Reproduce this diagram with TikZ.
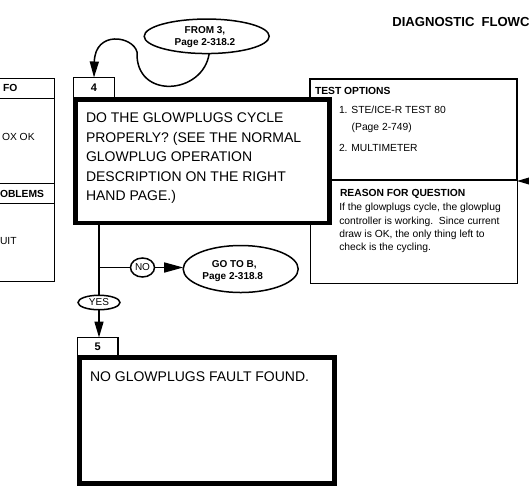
\documentclass[tikz,border=0pt]{standalone}
\usepackage{fontspec}
\setmainfont{Liberation Sans}
\usetikzlibrary{arrows.meta,shapes.geometric}
\newcommand\myfs[2]{\fontsize{#1}{#2}\selectfont}
\tikzset{
  conn/.style={line width=1.5pt},
  arr/.style={-{Triangle[length=16pt,width=9pt]}},
  bigarr/.style={-{Triangle[length=19pt,width=10pt]}},
  boxbase/.style={draw, inner sep=0pt, outer sep=0pt, anchor=north west},
  thickbox/.style={boxbase, line width=4.6pt, fill=white},
  labbox/.style={boxbase, line width=1.2pt, fill=white, font=\myfs{11}{13}\bfseries},
  oval/.style={ellipse, draw, line width=1.5pt, fill=white, inner sep=0pt, outer sep=0pt},
  txt/.style={inner sep=0pt, outer sep=0pt, anchor=base west},
  small/.style={txt, font=\myfs{10.3}{13.3}},
  smallb/.style={txt, font=\myfs{10.3}{13.3}\bfseries},
  ovaltxt/.style={inner sep=0pt, outer sep=0pt, anchor=base, font=\myfs{10}{12}\bfseries},
  big/.style={txt, font=\myfs{14}{19.5}},
}
\begin{document}
\begin{tikzpicture}[x=1pt,y=-1pt]
\useasboundingbox (0,0) rectangle (529,496);
\clip (0,0) rectangle (529,496);
% partial info box at left edge
\draw[line width=1pt] (-5,78) -- (54,78) -- (54,281) -- (-5,281);
\draw[line width=1pt] (-5,98) -- (54,98) (-5,183) -- (54,183) (-5,203) -- (54,203);
\node[smallb] (infoa) at (3,91.7) {FO};
\node[small] (infob) at (2,140.7) {OX OK};
\node[smallb] (infoc) at (0,197.3) {OBLEMS};
\node[small] (infod) at (0,244) {UIT};
% title
\node[txt, font=\myfs{13.1}{15}\bfseries] (title) at (392.3,26.7) {DIAGNOSTIC\hspace{7pt}FLOWCHART};
% right side boxes
\node[boxbase, line width=1pt, minimum width=207pt, minimum height=103pt] (reason) at (310,180) {};
\node[boxbase, line width=2pt, minimum width=207pt, minimum height=101pt] (testopt) at (310,79) {};
% step 4
\node[thickbox, minimum width=254pt, minimum height=123.5pt] (q4) at (75.5,99.5) {};
\node[labbox, minimum width=41pt, minimum height=20pt] (lab4) at (73.5,77.5) {4};
% step 5
\node[thickbox, line width=5pt, minimum width=255.5pt, minimum height=126pt] (box5) at (79,357) {};
\node[labbox, minimum width=40.5pt, minimum height=18pt] (lab5) at (77.5,337.5) {5};
% connectors
\coordinate (j) at (99,267.5);
\coordinate (rin) at (545,181);
\node[oval, minimum width=42pt, minimum height=14.5pt, font=\myfs{10}{12}] (yes) at (99,302.5) {YES};
\node[oval, minimum width=24pt, minimum height=19pt, font=\myfs{10}{12}] (no) at (142.5,267.5) {NO};
\node[oval, minimum width=125pt, minimum height=34.5pt] (from3) at (206.7,36.3) {};
\node[oval, minimum width=115pt, minimum height=47pt] (gotob) at (240.7,269) {};
\draw[conn] (q4.south -| yes.north) -- (yes.north);
\draw[conn] (j) -- (no.west);
\draw[conn,bigarr] (no.east) -- (no.east -| gotob.west);
\draw[conn,arr] (yes.south) -- (yes.south |- lab5.north);
\draw[conn,arr] ([xshift=2.5pt]from3.south) .. controls (203,95) and (135,100) .. (137,52)
   .. controls (133,36) and (95,30) .. (lab4.north);
\draw[conn,arr] (rin) -- (rin -| testopt.south east);
% oval texts
\node[ovaltxt] (from3a) at (205,33.3) {FROM 3,};
\node[ovaltxt] (from3b) at (205,45.7) {Page 2-318.2};
\node[ovaltxt] (gotoba) at (234.3,267.3) {GO TO B,};
\node[ovaltxt] (gotobb) at (232.7,279) {Page 2-318.8};
% step 4 text
\node[big] (q4a) at (86,122.7) {DO THE GLOWPLUGS CYCLE};
\node[big] (q4b) at (86,142.2) {PROPERLY? (SEE THE NORMAL};
\node[big] (q4c) at (86,161.7) {GLOWPLUG OPERATION};
\node[big] (q4d) at (86,181.2) {DESCRIPTION ON THE RIGHT};
\node[big] (q4e) at (86,200.7) {HAND PAGE.)};
% step 5 text
\node[big] (box5a) at (90,381.7) {NO GLOWPLUGS FAULT FOUND.};
% test options text
\node[smallb] (toa) at (315,94) {TEST OPTIONS};
\node[small] (tob) at (339,113.3) {1. STE/ICE-R TEST 80};
\node[small] (toc) at (351.7,130) {(Page 2-749)};
\node[small] (tod) at (339,151.7) {2. MULTIMETER};
% reason text
\node[smallb] (rea) at (340,196.7) {REASON FOR QUESTION};
\node[small] (reb) at (339.3,210.7) {If the glowplugs cycle, the glowplug};
\node[small] (rec) at (339.3,224) {controller is working.\ \ Since current};
\node[small] (red) at (339.3,237.3) {draw is OK, the only thing left to};
\node[small] (ree) at (339.3,250.7) {check is the cycling.};
\end{tikzpicture}
\end{document}
